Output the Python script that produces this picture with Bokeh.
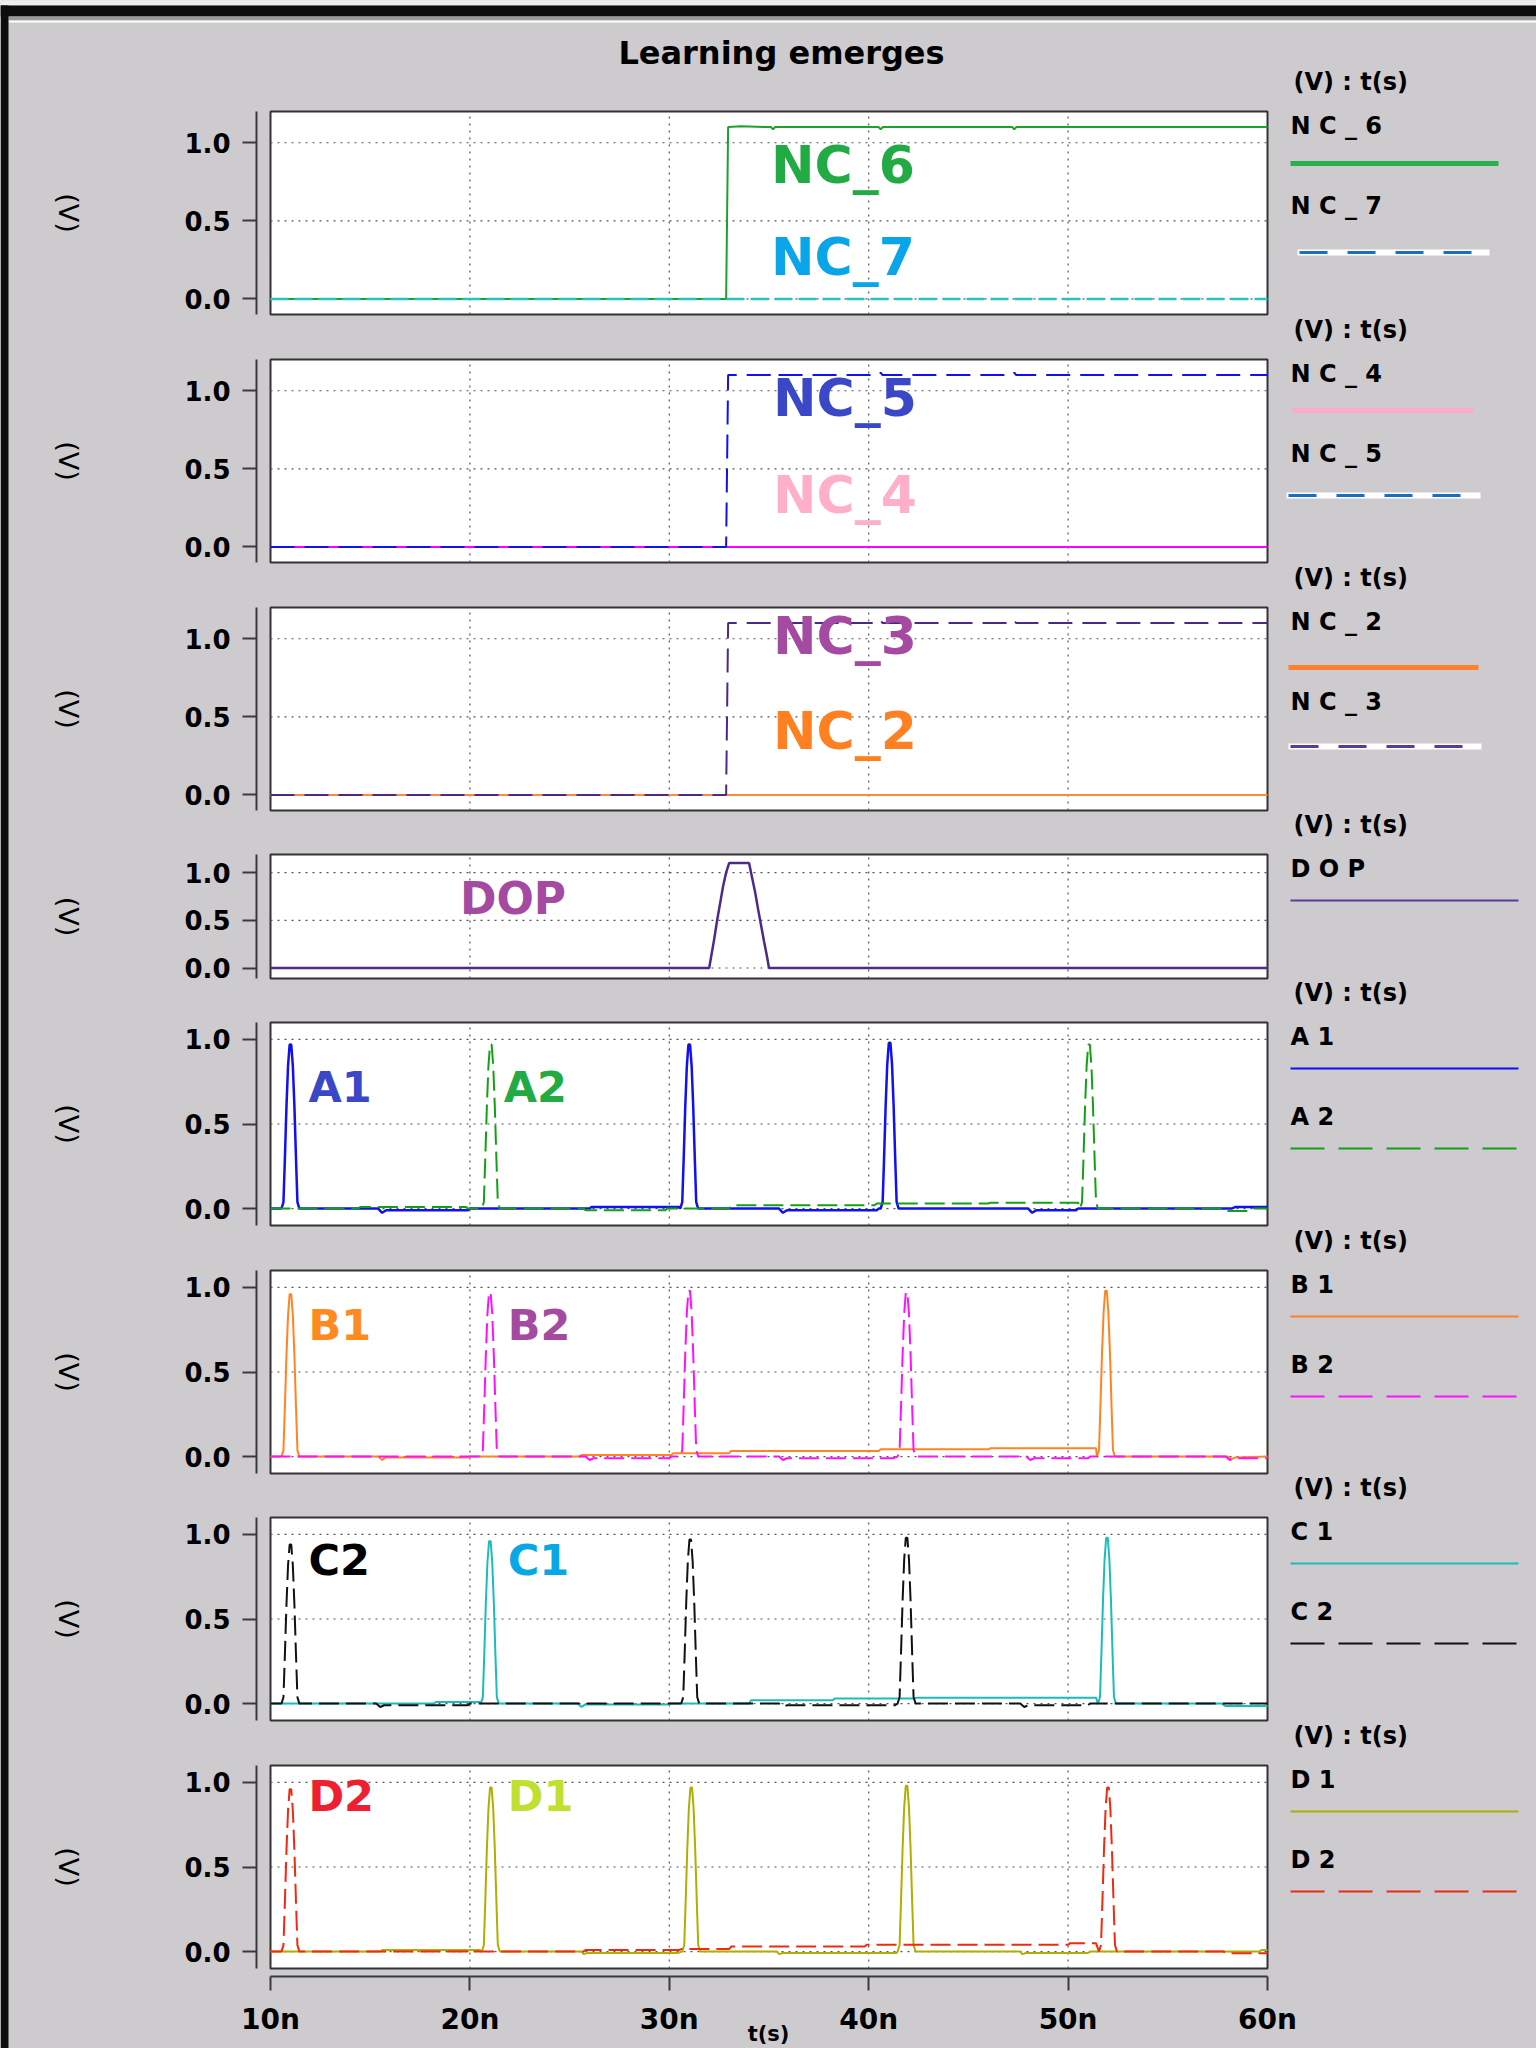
import numpy as np
from bokeh.plotting import figure
from bokeh.models import Range1d, FixedTicker, LinearAxis, PrintfTickFormatter
from bokeh.embed import file_html
from bokeh.resources import INLINE
from bokeh.core.properties import value

# ------------------------------------------------------------------ data
X_TICKS = [10, 20, 30, 40, 50, 60]
X_TICK_LABELS = ["10n", "20n", "30n", "40n", "50n", "60n"]
Y_TICKS = [0.0, 0.5, 1.0]
Y_TICK_LABELS = ["0.0", "0.5", "1.0"]

# panel 1
NC6_t = [10, 32.85, 32.95, 33.6, 35.1, 35.2, 35.3, 40.5, 40.6, 40.7, 47.2, 47.3, 47.4, 60]
NC6_v = [0, 0, 1.1, 1.105, 1.1, 1.085, 1.1, 1.1, 1.085, 1.1, 1.1, 1.085, 1.1, 1.1]
NC7_t = [10, 60]
NC7_v = [0, 0]
# panel 2
NC4_t = [10, 60]
NC4_v = [0, 0]
NC5_t = [10, 32.85, 32.95, 35.2, 35.3, 35.4, 40.5, 40.6, 40.7, 47.2, 47.3, 47.4, 60]
NC5_v = [0, 0, 1.1, 1.1, 1.115, 1.1, 1.1, 1.115, 1.1, 1.1, 1.115, 1.1, 1.1]
# panel 3
NC2_t = [10, 60]
NC2_v = [0, 0]
NC3_t = [10, 32.85, 32.95, 40.5, 40.6, 40.7, 47.2, 47.3, 47.4, 60]
NC3_v = [0, 0, 1.1, 1.1, 1.115, 1.1, 1.1, 1.115, 1.1, 1.1]
# panel 4
DOP_t = [10, 32.0, 32.1, 32.25, 32.4, 32.55, 32.7, 32.85, 33.0, 34.0, 34.15, 34.3, 34.45, 34.6, 34.75, 34.9, 35.0, 60]
DOP_v = [0, 0, 0.12, 0.3, 0.5, 0.68, 0.86, 1.0, 1.1, 1.1, 0.95, 0.8, 0.62, 0.45, 0.28, 0.12, 0, 0]

# shape of one spike (offset in ns, fraction of peak)
PULSE_DT = [-0.45, -0.35, -0.28, -0.20, -0.12, -0.04, 0.04, 0.12, 0.20, 0.28, 0.35, 0.45]
PULSE_SHAPE = [0.0, 0.04, 0.30, 0.62, 0.87, 1.0, 1.0, 0.87, 0.62, 0.30, 0.04, 0.0]

# panel 5
A1_bt = [10, 15.4, 15.6, 15.8, 19.9, 20.0, 26.0, 26.1, 30.5, 31.6, 35.5, 35.7, 35.9, 40.4, 40.5, 41.7, 48.0, 48.2, 48.4, 50.4, 50.5, 58.2, 58.4, 60]
A1_bv = [0, 0, -0.025, -0.01, -0.01, 0, 0, 0.01, 0.01, 0, 0, -0.025, -0.01, -0.01, 0, 0, 0, -0.025, -0.01, -0.01, 0, 0, 0.01, 0.01]
A1_pt = [11.0, 31.0, 41.05]
A1_pv = [0.97, 0.97, 0.98]
A2_bt = [10, 14.4, 14.5, 19.8, 19.9, 25.7, 25.8, 29.8, 29.9, 33.0, 33.1, 40.3, 40.4, 46.0, 46.1, 50.5, 51.6, 57.8, 57.9, 59.2, 59.3, 60]
A2_bv = [0, 0, 0.01, 0.01, 0, 0, -0.01, -0.01, 0, 0, 0.02, 0.02, 0.03, 0.03, 0.035, 0.035, 0, 0, -0.015, -0.015, 0, 0]
A2_pt = [21.05, 51.05]
A2_pv = [0.97, 0.97]
# panel 6
B1_bt = [10, 15.4, 15.6, 15.8, 19.9, 20.0, 25.5, 25.6, 30.1, 30.2, 33.0, 33.1, 40.5, 40.6, 46.0, 46.1, 51.4, 52.5, 58.0, 58.2, 58.4, 60]
B1_bv = [0, 0, -0.02, -0.005, -0.005, 0, 0, 0.01, 0.01, 0.02, 0.02, 0.033, 0.033, 0.043, 0.043, 0.049, 0.049, 0, 0, -0.015, -0.005, 0]
B1_pt = [11.0, 51.9]
B1_pv = [0.96, 0.98]
B2_bt = [10, 25.8, 26.0, 26.2, 30.0, 30.1, 35.5, 35.7, 35.9, 41.2, 42.7, 47.9, 48.1, 48.3, 51.0, 51.1, 57.9, 58.1, 58.3, 60]
B2_bv = [0, 0, -0.02, -0.01, -0.01, 0, 0, -0.02, -0.01, -0.01, 0, 0, -0.02, -0.01, -0.01, 0, 0, -0.02, -0.01, -0.01]
B2_pt = [21.0, 31.0, 41.9]
B2_pv = [0.97, 0.98, 0.97]
# panel 7
C1_bt = [10, 18.2, 18.3, 20.5, 21.6, 25.4, 25.6, 25.8, 29.9, 30.0, 34.0, 34.1, 38.2, 38.3, 42.3, 42.4, 51.4, 52.5, 57.7, 57.9, 60]
C1_bv = [0, 0, 0.01, 0.01, 0, 0, -0.02, -0.005, -0.005, 0, 0, 0.02, 0.02, 0.03, 0.03, 0.035, 0.035, 0, 0, -0.015, -0.015]
C1_pt = [21.0, 51.95]
C1_pv = [0.96, 0.98]
C2_bt = [10, 15.3, 15.5, 15.7, 19.9, 20.0, 35.5, 35.7, 35.9, 41.3, 42.6, 47.6, 47.8, 48.0, 51.0, 51.1, 60]
C2_bv = [0, 0, -0.02, -0.01, -0.01, 0, 0, -0.02, -0.01, -0.01, 0, 0, -0.02, -0.01, -0.01, 0, 0]
C2_pt = [11.0, 31.05, 41.9]
C2_pv = [0.94, 0.97, 0.98]
# panel 8
D1_bt = [10, 15.5, 15.6, 20.5, 21.6, 25.6, 25.7, 25.9, 30.4, 31.6, 35.4, 35.5, 35.7, 41.4, 42.5, 47.6, 47.7, 47.9, 51.0, 51.1, 59.6, 59.7, 60]
D1_bv = [0, 0, 0.01, 0.01, 0, 0, -0.015, -0.008, -0.008, 0, 0, -0.015, -0.008, -0.008, 0, 0, -0.015, -0.008, -0.008, 0, 0, 0.01, 0.01]
D1_pt = [21.05, 31.1, 41.9]
D1_pv = [0.97, 0.97, 0.98]
D2_bt = [10, 25.7, 25.8, 30.5, 30.6, 33.0, 33.1, 39.8, 39.9, 50.0, 50.1, 51.4, 52.6, 57.8, 57.9, 60]
D2_bv = [0, 0, 0.01, 0.01, 0.015, 0.015, 0.03, 0.03, 0.04, 0.04, 0.05, 0.05, 0, 0, -0.01, -0.01]
D2_pt = [11.0, 52.0]
D2_pv = [0.96, 0.97]


def trace_xy(base_t, base_v, peak_t=(), peak_v=()):
    pts = list(zip(base_t, base_v))
    for tp, vp in zip(peak_t, peak_v):
        pts.extend((tp + d, vp * s) for d, s in zip(PULSE_DT, PULSE_SHAPE))
    pts.sort(key=lambda q: q[0])
    return [q[0] for q in pts], [q[1] for q in pts]


# ------------------------------------------------------------------ styles / layout
BG = "#cdcbce"
FONT = "DejaVu Sans"
AX_COL = "#3a3a3a"
DASH = "20 7"

PANELS = [
    dict(ylim=(-0.1, 1.2), top=111, h=203,
         traces=[(NC6_t, NC6_v, "#1ca12e", 2, "solid"), (NC7_t, NC7_v, "#22c4c4", 2.5, "18 6")],
         labels=[("NC_6", 35.1, 0.855, "#22aa44", 52), ("NC_7", 35.1, 0.27, "#0aa5e8", 52)],
         legend=[("N C _ 6", "#2ab04a", 5, "solid", False, 52, 1290, 1498),
                 ("N C _ 7", "#1a70c0", 3, "28 20", True, 141, 1297, 1489)]),
    dict(ylim=(-0.1, 1.2), top=359, h=203,
         traces=[(NC4_t, NC4_v, "#ff00ff", 2, "solid"), (NC5_t, NC5_v, "#1010f0", 2, "24 10")],
         labels=[("NC_5", 35.2, 0.956, "#3a48c8", 52), ("NC_4", 35.2, 0.33, "#ffb0c8", 52)],
         legend=[("N C _ 4", "#ffaacc", 5, "solid", False, 51, 1292, 1473),
                 ("N C _ 5", "#1a70c0", 3, "28 20", True, 136, 1286, 1480)]),
    dict(ylim=(-0.1, 1.2), top=607, h=203,
         traces=[(NC2_t, NC2_v, "#ff8a3a", 2, "solid"), (NC3_t, NC3_v, "#4b2a85", 2, "24 10")],
         labels=[("NC_3", 35.2, 1.02, "#a44aa0", 52), ("NC_2", 35.2, 0.41, "#ff8020", 52)],
         legend=[("N C _ 2", "#ff8030", 5, "solid", False, 60, 1288, 1478),
                 ("N C _ 3", "#5a3a9a", 3, "28 20", True, 139, 1288, 1481)]),
    dict(ylim=(-0.11, 1.19), top=854, h=124,
         traces=[(DOP_t, DOP_v, "#4b2a8a", 2.5, "solid")],
         labels=[("DOP", 19.5, 0.73, "#a44aa0", 44)],
         legend=[("D O P", "#5a3a9a", 2, "solid", False, 46, 1290, 1518)]),
    dict(ylim=(-0.1, 1.1), top=1022, h=203,
         traces=[(*trace_xy(A1_bt, A1_bv, A1_pt, A1_pv), "#1010f0", 2.5, "solid"),
                 (*trace_xy(A2_bt, A2_bv, A2_pt, A2_pv), "#14a014", 2, DASH)],
         labels=[("A1", 11.9, 0.72, "#3a48c8", 43), ("A2", 21.7, 0.72, "#22aa44", 43)],
         legend=[("A 1", "#1010ee", 2, "solid", False, 46, 1290, 1518),
                 ("A 2", "#14a014", 2, "34 14", False, 126, 1290, 1518)]),
    dict(ylim=(-0.1, 1.1), top=1270, h=203,
         traces=[(*trace_xy(B1_bt, B1_bv, B1_pt, B1_pv), "#ff8424", 2, "solid"),
                 (*trace_xy(B2_bt, B2_bv, B2_pt, B2_pv), "#ff10ff", 2, DASH)],
         labels=[("B1", 11.9, 0.78, "#ff8a20", 43), ("B2", 21.9, 0.78, "#a44aa0", 43)],
         legend=[("B 1", "#ff7f2a", 2, "solid", False, 46, 1290, 1518),
                 ("B 2", "#ff10ff", 2, "34 14", False, 126, 1290, 1518)]),
    dict(ylim=(-0.1, 1.1), top=1517, h=203,
         traces=[(*trace_xy(C1_bt, C1_bv, C1_pt, C1_pv), "#1cbcbc", 2, "solid"),
                 (*trace_xy(C2_bt, C2_bv, C2_pt, C2_pv), "#111111", 2, DASH)],
         labels=[("C2", 11.9, 0.85, "#000000", 43), ("C1", 21.9, 0.85, "#08a8e8", 43)],
         legend=[("C 1", "#1cbcbc", 2, "solid", False, 46, 1290, 1518),
                 ("C 2", "#111111", 2, "34 14", False, 126, 1290, 1518)]),
    dict(ylim=(-0.1, 1.1), top=1765, h=203,
         traces=[(*trace_xy(D1_bt, D1_bv, D1_pt, D1_pv), "#b0ae00", 2, "solid"),
                 (*trace_xy(D2_bt, D2_bv, D2_pt, D2_pv), "#ee2a10", 2, DASH)],
         labels=[("D2", 11.9, 0.92, "#ee2030", 43), ("D1", 21.9, 0.92, "#c0e030", 43)],
         legend=[("D 1", "#b0ae00", 2, "solid", False, 46, 1290, 1518),
                 ("D 2", "#ee2a10", 2, "34 14", False, 126, 1290, 1518)]),
]

# page geometry in page pixels (the Bokeh page has no body margin)
PG_L, PG_R, PG_T, PG_B = 0, 1536, 0, 2048
BOX_L, BOX_R = 270, 1267          # page x of every plot box
AXIS_X = 256                      # page x of the detached y axis lines
XAXIS_Y = 1976                    # page y of the detached time axis
PX_PER_NS = (BOX_R - BOX_L) / (X_TICKS[-1] - X_TICKS[0])


def ns_at(px):
    return X_TICKS[0] + (px - BOX_L) / PX_PER_NS


p = figure(width=PG_R - PG_L, height=PG_B - PG_T, output_backend="svg", toolbar_location=None, tools="",
           title=None, x_range=Range1d(ns_at(PG_L), ns_at(PG_R)), y_range=Range1d(PG_B, PG_T),
           x_axis_location=None, y_axis_location=None, min_border=0,
           min_border_left=0, min_border_right=0, min_border_top=0, min_border_bottom=0,
           background_fill_color=BG, border_fill_color=BG, outline_line_color=None)
p.grid.visible = False
p.extra_x_ranges = {"px": Range1d(PG_L, PG_R)}

TXT = dict(text_font=value(FONT), text_font_style="bold")

# window decoration (top bar and left edge)
p.quad(left=[0], right=[1536], top=[0], bottom=[5], x_range_name="px", fill_color="#eeeeee", line_color=None)
p.quad(left=[0], right=[1536], top=[5], bottom=[16], x_range_name="px", fill_color="#0d0d0d", line_color=None)
p.quad(left=[8], right=[1536], top=[16], bottom=[20], x_range_name="px", fill_color="#9a9a9a", line_color=None)
p.quad(left=[8], right=[1536], top=[20], bottom=[22], x_range_name="px", fill_color="#ffffff", line_color=None)
p.quad(left=[0], right=[8], top=[5], bottom=[2048], x_range_name="px", fill_color="#0d0d0d", line_color=None)

p.text(x=[781], y=[52], text=["Learning emerges"], x_range_name="px", text_font_size="32px",
       text_color="black", text_align="center", text_baseline="middle", **TXT)

yr = {}
for i, P in enumerate(PANELS):
    ymin, ymax = P["ylim"]
    T, H = P["top"], P["h"]
    upp = (ymax - ymin) / H
    yr[f"p{i}"] = Range1d(ymin + (T + H - PG_B) * upp, ymin + (T + H - PG_T) * upp)
p.extra_y_ranges = yr

for i, P in enumerate(PANELS):
    ymin, ymax = P["ylim"]
    T, H = P["top"], P["h"]
    name = f"p{i}"

    # plot box
    p.quad(left=[X_TICKS[0]], right=[X_TICKS[-1]], bottom=[ymin], top=[ymax], y_range_name=name,
           fill_color="white", line_color="#333333", line_width=2)
    # dotted grid
    p.segment(x0=[X_TICKS[0]] * len(Y_TICKS), y0=Y_TICKS, x1=[X_TICKS[-1]] * len(Y_TICKS), y1=Y_TICKS,
              y_range_name=name, line_color="#555555", line_width=1.2, line_dash="2 5")
    inner = X_TICKS[1:-1]
    p.segment(x0=inner, y0=[ymin] * len(inner), x1=inner, y1=[ymax] * len(inner), y_range_name=name,
              line_color="#555555", line_width=1.2, line_dash="2 5")
    # traces
    for tt, vv, col, lw, dash in P["traces"]:
        p.line(tt, vv, y_range_name=name, line_color=col, line_width=lw, line_dash=dash)
    # in-plot names
    for txt, lx, ly, col, fs in P["labels"]:
        p.text(x=[lx], y=[ly], text=[txt], y_range_name=name, text_color=col, text_font_size=f"{fs}px",
               text_align="left", text_baseline="middle", **TXT)

    # detached y axis
    ax = LinearAxis(y_range_name=name, fixed_location=ns_at(AXIS_X), bounds=(ymin, ymax),
                    ticker=FixedTicker(ticks=Y_TICKS), formatter=PrintfTickFormatter(format="%.1f"))
    ax.major_label_overrides = {t: s for t, s in zip(Y_TICKS, Y_TICK_LABELS)}
    ax.axis_line_color = AX_COL
    ax.axis_line_width = 2
    ax.major_tick_line_color = AX_COL
    ax.major_tick_line_width = 2
    ax.major_tick_out = 14
    ax.major_tick_in = 0
    ax.minor_tick_line_color = None
    ax.major_label_standoff = 12
    ax.major_label_text_font = FONT
    ax.major_label_text_font_style = "bold"
    ax.major_label_text_font_size = "26px"
    ax.major_label_text_color = "black"
    p.add_layout(ax, "left")

    # rotated unit label
    p.text(x=[68], y=[T + H / 2], text=["(V)"], x_range_name="px", angle=-np.pi / 2,
           text_font_size="27px", text_color="black", text_align="center", text_baseline="middle",
           text_font=value(FONT), text_font_style="normal")

    # legend column
    tx, ty, tl = [1293], [T - 30], ["(V) : t(s)"]
    for k, (lname, col, lw, dash, strip, loff, x0, x1) in enumerate(P["legend"]):
        tx.append(1290); ty.append(T + 14 + 80 * k); tl.append(lname)
        if strip:
            p.line([x0, x1], [T + loff, T + loff], x_range_name="px", line_color="white", line_width=6)
        p.line([x0 + 2, x1 - 2] if strip else [x0, x1], [T + loff, T + loff], x_range_name="px",
               line_color=col, line_width=lw, line_dash=dash)
    p.text(x=tx, y=ty, text=tl, x_range_name="px", text_font_size="24px", text_color="black",
           text_align="left", text_baseline="middle", **TXT)

# detached time axis
xa = LinearAxis(fixed_location=XAXIS_Y, bounds=(X_TICKS[0], X_TICKS[-1]), ticker=FixedTicker(ticks=X_TICKS))
xa.major_label_overrides = {t: s for t, s in zip(X_TICKS, X_TICK_LABELS)}
xa.axis_line_color = AX_COL
xa.axis_line_width = 2
xa.major_tick_line_color = AX_COL
xa.major_tick_line_width = 2
xa.major_tick_out = 14
xa.major_tick_in = 0
xa.minor_tick_line_color = None
xa.major_label_standoff = 12
xa.major_label_text_font = FONT
xa.major_label_text_font_style = "bold"
xa.major_label_text_font_size = "28px"
xa.major_label_text_color = "black"
p.add_layout(xa, "below")
p.text(x=[768], y=[2021], text=["t(s)"], x_range_name="px", text_font_size="21px", text_color="black",
       text_align="center", text_baseline="top", **TXT)

open("out.html", "w").write(file_html(p, INLINE))
